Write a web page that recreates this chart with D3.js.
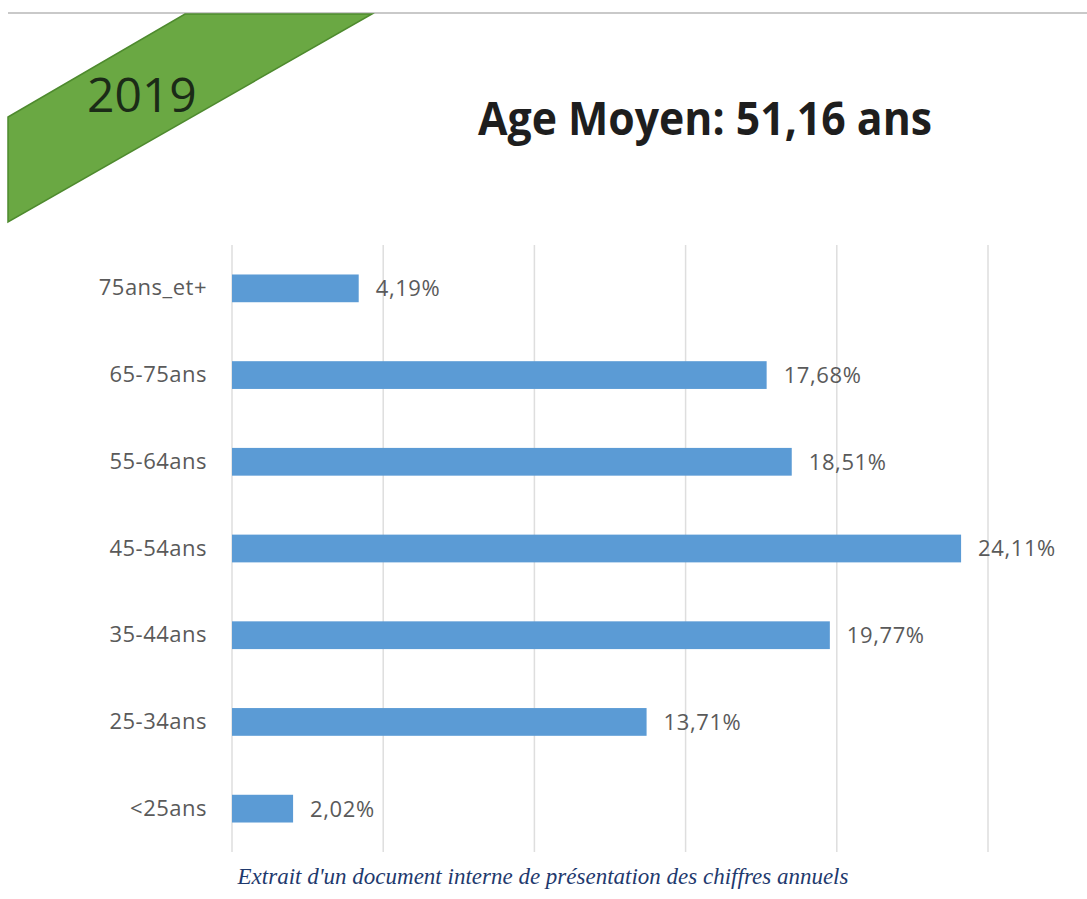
<!DOCTYPE html>
<html>
<head>
<meta charset="utf-8">
<script src="https://cdn.jsdelivr.net/npm/d3@7"></script>
<style>
  body { margin: 0; background: #fff; }
  svg { display: block; }
</style>
</head>
<body>
<svg width="1087" height="899"></svg>
<script>
const categories = ["75ans_et+", "65-75ans", "55-64ans", "45-54ans", "35-44ans", "25-34ans", "<25ans"];
const shares = [4.19, 17.68, 18.51, 24.11, 19.77, 13.71, 2.02];
const gridTicks = [0, 5, 10, 15, 20, 25];
const yearLabel = "2019";
const titleText = "Age Moyen: 51,16 ans";
const captionText = "Extrait d'un document interne de présentation des chiffres annuels";

const svg = d3.select("svg");

const attr_area = {
    left: 232,
    right: 988,
    top: 245,
    bottom: 852
};

// top rule of the slide
svg.append("line")
   .attr("x1", 8).attr("x2", 1087)
   .attr("y1", 13).attr("y2", 13)
   .style("stroke", "#c9c9c9")
   .style("stroke-width", 2);

// green diagonal ribbon
svg.append("path")
   .attr("d", "M185,14 L372,14 L8,222 L8,117 Z")
   .style("fill", "#6aa843")
   .style("stroke", "#4e8a2e")
   .style("stroke-width", 1.5);

svg.append("text")
   .attr("x", 87)
   .attr("y", 112)
   .style("font-family", "'Open Sans', sans-serif")
   .style("font-size", "48px")
   .style("fill", "#1b2b17")
   .text(yearLabel);

svg.append("text")
   .attr("x", 478)
   .attr("y", 135)
   .style("font-family", "'Open Sans', sans-serif")
   .style("font-weight", "bold")
   .style("font-size", "46px")
   .attr("textLength", 454)
   .attr("lengthAdjust", "spacingAndGlyphs")
   .style("fill", "#1e1e1e")
   .text(titleText);

const scaleX = d3.scaleLinear()
                 .domain([0, 25])
                 .range([attr_area.left, attr_area.right]);

const scaleY = d3.scaleBand()
                 .domain(categories)
                 .range([attr_area.top, attr_area.bottom])
                 .paddingInner(0.68)
                 .paddingOuter(0.34);

// vertical gridlines
svg.append("g")
   .selectAll("line")
   .data(gridTicks)
   .enter()
   .append("line")
   .attr("x1", d => scaleX(d))
   .attr("x2", d => scaleX(d))
   .attr("y1", attr_area.top)
   .attr("y2", attr_area.bottom)
   .style("stroke", "#dedede")
   .style("stroke-width", 1.5);

const axisY = d3.axisLeft(scaleY).tickSize(0).tickPadding(25);
const gAxis = svg.append("g")
   .attr("transform", `translate(${attr_area.left}, 0)`)
   .call(axisY);
gAxis.select(".domain").remove();
gAxis.selectAll("text")
     .style("font-family", "'Open Sans', sans-serif")
     .style("font-size", "22px")
     .style("letter-spacing", "0.5px")
     .style("fill", "#5a5a5a");

const data = categories.map((c, i) => ({label: c, value: shares[i]}));
const fr = d3.formatLocale({decimal: ",", thousands: " ", grouping: [3], currency: ["", "€"]});
const fmt = fr.format(".2f");

svg.selectAll(".bar")
   .data(data)
   .enter()
   .append("rect")
   .attr("class", "bar")
   .attr("x", scaleX(0))
   .attr("y", d => scaleY(d.label))
   .attr("width", d => scaleX(d.value) - scaleX(0))
   .attr("height", scaleY.bandwidth())
   .style("fill", "#5b9bd5");

svg.selectAll(".val")
   .data(data)
   .enter()
   .append("text")
   .attr("class", "val")
   .attr("x", d => scaleX(d.value) + 17)
   .attr("y", d => scaleY(d.label) + scaleY.bandwidth() / 2)
   .attr("dy", "0.36em")
   .style("font-family", "'Open Sans', sans-serif")
   .style("font-size", "22px")
   .style("letter-spacing", "0.6px")
   .style("fill", "#5a5a5a")
   .text(d => fmt(d.value) + "%");

svg.append("text")
   .attr("x", 543)
   .attr("y", 884)
   .attr("text-anchor", "middle")
   .style("font-family", "'Liberation Serif', serif")
   .style("font-style", "italic")
   .style("font-size", "23px")
   .style("fill", "#1f3a6e")
   .text(captionText);
</script>
</body>
</html>
